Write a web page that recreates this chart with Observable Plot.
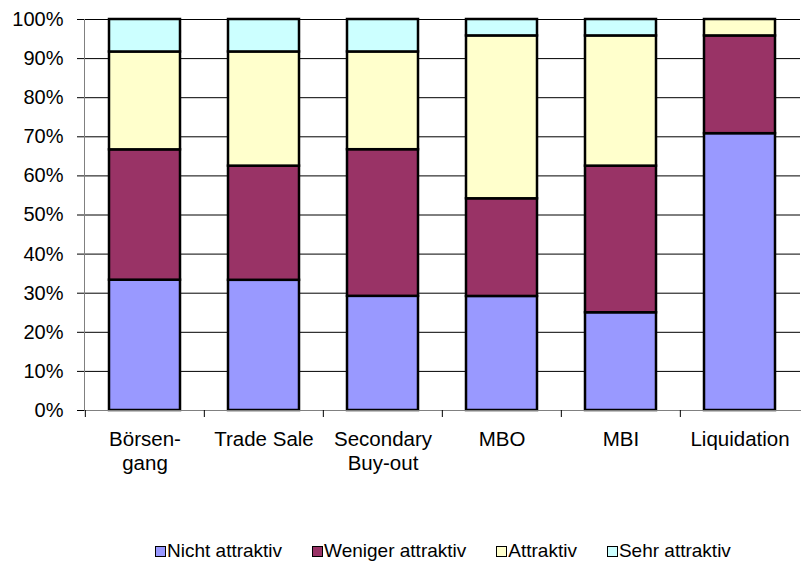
<!DOCTYPE html>
<html>
<head>
<meta charset="utf-8">
<script src="https://cdn.jsdelivr.net/npm/d3@7"></script>
<script src="https://cdn.jsdelivr.net/npm/@observablehq/plot@0.6"></script>
<style>
  body { margin: 0; background: #fff; font-family: "Liberation Sans", Arial, sans-serif; }
  #chart { position: relative; width: 808px; height: 566px; overflow: hidden; }
  .legend { position: absolute; left: 155px; top: 540px; display: flex; gap: 30px;
            font-size: 19px; line-height: 22px; color: #000; white-space: nowrap; }
  .legend .item { display: flex; align-items: center; }
  .legend .sw { width: 9px; height: 9px; border: 1.5px solid #000; margin-right: 1px; }
</style>
</head>
<body>
<div id="chart"></div>
<script>
// Exit channels (x axis) and their wrapped axis labels
const exits = ["Börsengang", "Trade Sale", "Secondary Buy-out", "MBO", "MBI", "Liquidation"];
const exitLabels = ["Börsen-\ngang", "Trade Sale", "Secondary\nBuy-out", "MBO", "MBI", "Liquidation"];

// Rating categories, bottom to top, and their fills
const ratings = ["Nicht attraktiv", "Weniger attraktiv", "Attraktiv", "Sehr attraktiv"];
const ratingColors = ["#9999FF", "#993366", "#FFFFCC", "#CCFFFF"];

// Share of answers per exit channel (percent)
const nichtAttraktiv   = [33.3, 33.3, 29.2, 29.2, 25.0, 70.8];
const wenigerAttraktiv = [33.3, 29.2, 37.5, 25.0, 37.5, 25.0];
const attraktiv        = [25.0, 29.2, 25.0, 41.7, 33.3, 4.2];
const sehrAttraktiv    = [8.3, 8.3, 8.3, 4.2, 4.2, 0];

// Y axis ticks (fraction of 100%)
const yTicks = [0, 0.1, 0.2, 0.3, 0.4, 0.5, 0.6, 0.7, 0.8, 0.9, 1];

const series = [nichtAttraktiv, wenigerAttraktiv, attraktiv, sehrAttraktiv];
const rows = [];
exits.forEach((exit, i) => {
  ratings.forEach((rating, j) => {
    const value = series[j][i];
    if (value > 0) rows.push({exit, rating, value});
  });
});

const width = 808, height = 500;
const marginLeft = 84, marginRight = 8, marginTop = 19, marginBottom = 90;
const step = (width - marginLeft - marginRight) / exits.length;

const chart = Plot.plot({
  width, height, marginLeft, marginRight, marginTop, marginBottom,
  style: {fontFamily: "'Liberation Sans', Arial, sans-serif", fontSize: "20px", color: "#000", background: "#fff"},
  x: {domain: exits, paddingInner: 0.4, paddingOuter: 0.2, label: null},
  y: {domain: [0, 1], label: null},
  color: {domain: ratings, range: ratingColors},
  marks: [
    Plot.ruleY(yTicks, {stroke: "#000", strokeWidth: 1}),
    Plot.barY(rows, {
      x: "exit", y: "value", fill: "rating", order: ratings, offset: "normalize",
      stroke: "#000", strokeWidth: 2.5
    }),
    Plot.frame({anchor: "left", stroke: "#808080"}),
    Plot.frame({anchor: "bottom", stroke: "#808080"}),
    // category separator ticks below the x axis
    Plot.ruleX(exits, {x: d => d, y1: 0, y2: 0, dx: -step / 2, insetBottom: -7, stroke: "#000"}),
    Plot.axisY({
      ticks: yTicks, tickFormat: d3.format(".0%"), tickSize: 7, tickPadding: 14,
      label: null, fontSize: 20, stroke: "#000"
    }),
    Plot.axisX({
      tickSize: 0, tickPadding: 19, label: null, fontSize: 20.5, lineHeight: 1.15,
      tickFormat: d => exitLabels[exits.indexOf(d)]
    })
  ]
});

const root = document.getElementById("chart");
root.appendChild(chart);

const legend = document.createElement("div");
legend.className = "legend";
ratings.forEach((r, i) => {
  const item = document.createElement("span");
  item.className = "item";
  const sw = document.createElement("span");
  sw.className = "sw";
  sw.style.background = ratingColors[i];
  item.appendChild(sw);
  item.appendChild(document.createTextNode(r));
  legend.appendChild(item);
});
root.appendChild(legend);
</script>
</body>
</html>
